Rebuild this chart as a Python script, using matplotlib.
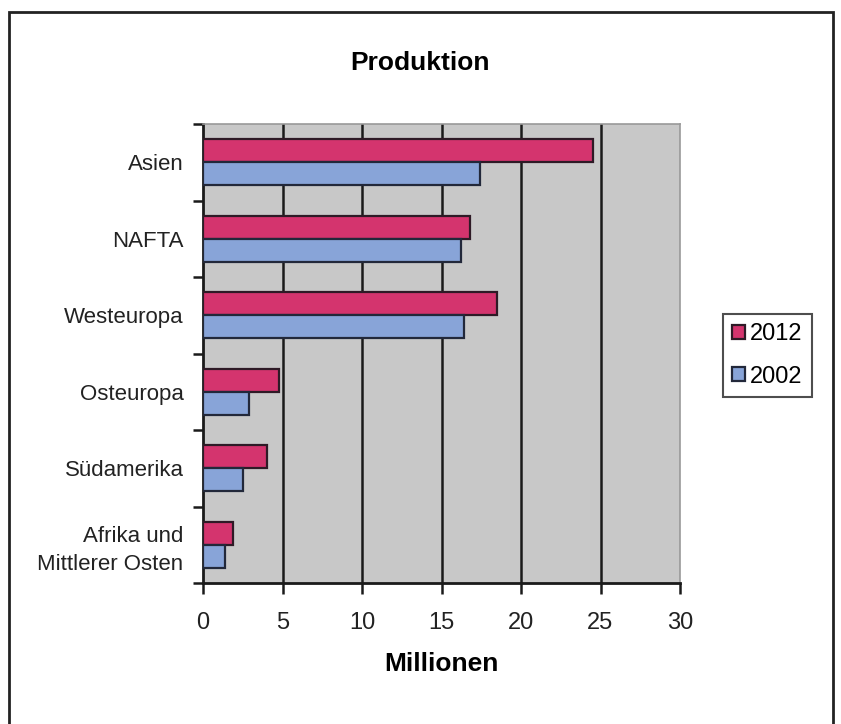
import matplotlib
matplotlib.use("Agg")
import matplotlib.pyplot as plt
from matplotlib.patches import Rectangle
from matplotlib.ticker import FixedLocator
import numpy as np

categories = ["Asien", "NAFTA", "Westeuropa", "Osteuropa", "Südamerika",
              "Afrika und\nMittlerer Osten"]
values_2012 = [24.5, 16.8, 18.5, 4.8, 4.0, 1.9]
values_2002 = [17.4, 16.2, 16.4, 2.9, 2.5, 1.4]
series_labels = ["2012", "2002"]
x_ticks = [0, 5, 10, 15, 20, 25, 30]

plt.rcParams['font.family'] = ['Liberation Sans', 'DejaVu Sans']

fig = plt.figure(figsize=(8.41, 7.24), dpi=100)
fig.patch.set_facecolor("white")

# outer frame
fig.add_artist(Rectangle((9/841, -0.01), (833-9)/841, 1 - 12/724 + 0.01,
                         transform=fig.transFigure, fill=False,
                         edgecolor="#222222", linewidth=2.0))

ax = fig.add_axes([203/841, 1 - 583/724, (680-203)/841, (583-124)/724])
ax.set_facecolor("#C8C8C8")

n = len(categories)
y = np.arange(n)
bh = 0.3
c2012 = "#D4346E"
c2002 = "#88A4D8"
ax.barh(y - bh/2, values_2012, height=bh, color=c2012, edgecolor="#2e1a26",
        linewidth=1.6, label=series_labels[0], zorder=3)
ax.barh(y + bh/2, values_2002, height=bh, color=c2002, edgecolor="#22283a",
        linewidth=1.6, label=series_labels[1], zorder=3)

ax.set_xlim(0, 30)
ax.set_ylim(n - 0.5, -0.5)

ax.set_xticks(x_ticks)
ax.set_xticklabels([str(t) for t in x_ticks], fontsize=17, color="#222222")
for t in x_ticks[1:-1]:
    ax.axvline(t, color="#1a1a1a", linewidth=1.8, zorder=2)

ax.set_yticks(y)
ax.set_yticklabels(categories, fontsize=16, color="#222222", linespacing=1.4)
ax.yaxis.set_minor_locator(FixedLocator(np.arange(-0.5, n, 1.0)))
ax.tick_params(axis="y", which="major", length=0, pad=14)
ax.tick_params(axis="y", which="minor", length=7, width=1.8, color="#1a1a1a")
ax.tick_params(axis="x", which="major", length=8, width=1.8, color="#1a1a1a", pad=13)

for s in ["left", "bottom"]:
    ax.spines[s].set_color("#1a1a1a")
    ax.spines[s].set_linewidth(2)
for s in ["top", "right"]:
    ax.spines[s].set_color("#999999")
    ax.spines[s].set_linewidth(1.2)

ax.set_xlabel("Millionen", fontsize=19, fontweight="bold", labelpad=13)

fig.text(420/841, 1 - 63/724, "Produktion", fontsize=19, fontweight="bold",
         ha="center", va="center")

leg = fig.legend(loc="upper left", bbox_to_anchor=(723/841, 1 - 314/724),
                 fontsize=17, frameon=True, fancybox=False,
                 handlelength=0.55, handleheight=0.55, handletextpad=0.2,
                 borderpad=0.4, labelspacing=0.85, borderaxespad=0)
leg.get_frame().set_edgecolor("#222222")
leg.get_frame().set_linewidth(1.5)

fig.savefig("out.png", dpi=100)
